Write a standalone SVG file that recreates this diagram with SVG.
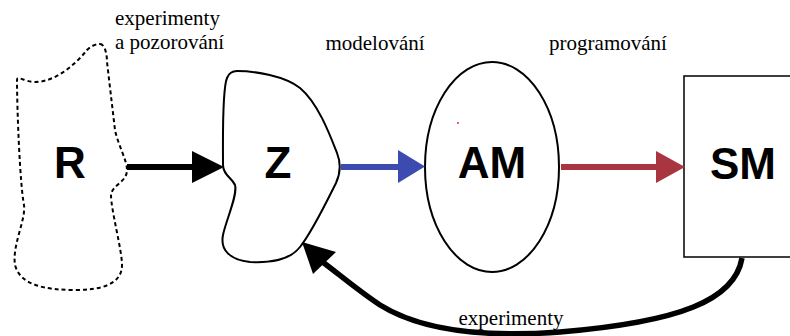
<svg xmlns="http://www.w3.org/2000/svg" width="790" height="336" viewBox="0 0 790 336">
<style>
.lbl{font-family:"Liberation Sans",Arial,sans-serif;font-weight:bold;font-size:44px;text-anchor:middle;fill:#000}
.cap{font-family:"Liberation Serif","Times New Roman",serif;font-size:21px;fill:#000}
.shape{fill:#fff;stroke:#000;stroke-width:2}
</style>
<rect width="790" height="336" fill="#fff"/>
<g id="node-R">
<path d="M100,44 C104,44 107,52 107,62 L115,130 C118,145 127,160 127,170 C127,182 112,185 111,195 C111,210 122,250 122,265 C122,285 100,290 75,290 C45,290 20,285 15,265 C12,245 26,220 24,205 C20,185 17,110 17,80 C17,75 25,82 35,82 C55,82 75,65 87,50 C92,45 97,44 100,44 Z" fill="none" stroke="#000" stroke-width="2" stroke-dasharray="4,3"/>
<text class="lbl" x="70" y="178">R</text>
</g>
<g id="node-Z">
<path class="shape" d="M237,71 C255,71 285,76 300,88 C318,103 330,135 337,153 C341,163 341,172 336,183 C325,205 312,232 300,247 C290,260 270,263 250,262 C230,260 220,250 223,235 C226,220 238,195 235,185 C232,178 223,175 223,165 C223,140 222,90 227,78 C229,73 233,71 237,71 Z"/>
<text class="lbl" x="278" y="178">Z</text>
</g>
<g id="node-AM">
<ellipse class="shape" cx="492" cy="167" rx="67" ry="105"/>
<circle cx="458" cy="123" r="1" fill="#e03030"/>
<text class="lbl" x="492" y="178">AM</text>
</g>
<g id="node-SM">
<rect x="684" y="76" width="120" height="181" fill="#fff" stroke="#000" stroke-width="1.5"/>
<text class="lbl" x="743" y="179">SM</text>
</g>
<g id="connectors">
<line x1="127" y1="167" x2="194" y2="167" stroke="#000" stroke-width="6"/>
<polygon points="192,151 224,167 192,183" fill="#000"/>
<line x1="341" y1="167" x2="400" y2="167" stroke="#3b4bb0" stroke-width="6"/>
<polygon points="398,150 425,166.5 398,183" fill="#3b4bb0"/>
<line x1="561" y1="167" x2="658" y2="167" stroke="#a8353f" stroke-width="6"/>
<polygon points="656,151 685,167 656,183" fill="#a8353f"/>
<path d="M742,258 C735,300 680,322 560,332 C480,338 420,330 380,305 C360,292 340,275 320,260" fill="none" stroke="#000" stroke-width="5.5"/>
<polygon points="302,242 313,274 336,252" fill="#000"/>
</g>
<g id="labels">
<text class="cap" x="115" y="25">experimenty</text>
<text class="cap" x="115" y="49">a pozorování</text>
<text class="cap" x="375" y="50" text-anchor="middle">modelování</text>
<text class="cap" x="608" y="50" text-anchor="middle">programování</text>
<text class="cap" x="511" y="325" text-anchor="middle">experimenty</text>
</g>
</svg>
